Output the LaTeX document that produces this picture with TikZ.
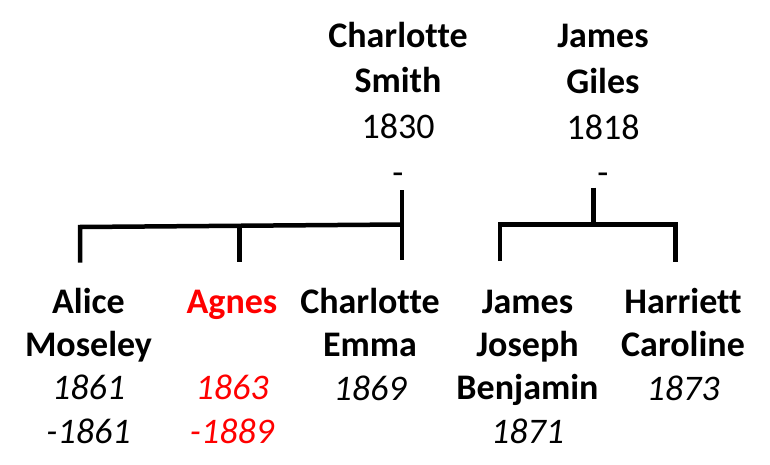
\documentclass[tikz,border=0pt]{standalone}
\usepackage{fontspec}
\setmainfont[Ligatures=NoCommon]{Carlito}
\usetikzlibrary{positioning}
\definecolor{lostred}{RGB}{255, 0, 0}
\newcommand{\yr}[1]{{\mdseries\itshape #1}}
\newcommand{\dt}[1]{{\mdseries #1}}

\begin{document}
\begin{tikzpicture}[x=1pt, y=-1pt,
                person/.style={align=center, inner sep=0pt, anchor=base,
                    font=\fontsize{36}{43.3}\selectfont\bfseries},
                parent/.style={person,
                    font=\fontsize{36}{45.8}\selectfont\bfseries},
                famline/.style={draw=black, line width=4.5pt}
            ]
                \useasboundingbox (0,0) rectangle (770,465);

                % parents (placed by their last line)
                \node[parent] (smith) at (398,184.5)
                    {Charlotte\\Smith\\\dt{1830}\\\dt{-}};
                \node[parent] (giles) at (603,185)
                    {James\\Giles\\\dt{1818}\\\dt{-}};

                % children (placed by their last line)
                \node[person] (alice) at (88.5,443)
                    {Alice\\Moseley\\\yr{1861}\\\yr{-1861}};
                \node[person, text=lostred] (agnes) at (232,443)
                    {Agnes\\\mbox{}\\\yr{1863}\\\yr{-1889}};
                \node[person] (emma) at (370,400)
                    {Charlotte\\Emma\\\yr{1869}};
                \node[person] (jjb) at (527.5,443)
                    {James\\Joseph\\Benjamin\\\yr{1871}};
                \node[person] (harriett) at (683,400)
                    {Harriett\\Caroline\\\yr{1873}};

                % family lines
                \coordinate (smithlink) at (402,190);
                \coordinate (smithbarL) at (80,227);
                \coordinate (smithbarR) at (402,224.5);
                \coordinate (alicelink) at (80,262.5);
                \coordinate (agneslink) at (239.5,261.5);
                \coordinate (emmalink) at (402,260);

                \coordinate (gileslink) at (593.5,187.5);
                \coordinate (gilesbar) at (593.5,224.5);
                \coordinate (jjblink) at (500,261);
                \coordinate (harriettlink) at (675.5,262);

                \draw[famline] (smithlink) -- (emmalink);
                \draw[famline] (alicelink) -- (smithbarL) -- (smithbarR);
                \draw[famline] (agneslink) -- (agneslink |- smithbarL);

                \draw[famline] (gileslink) -- (gilesbar);
                \draw[famline] (jjblink) -- (jjblink |- gilesbar)
                    -- (harriettlink |- gilesbar) -- (harriettlink);

            \end{tikzpicture}
\end{document}
